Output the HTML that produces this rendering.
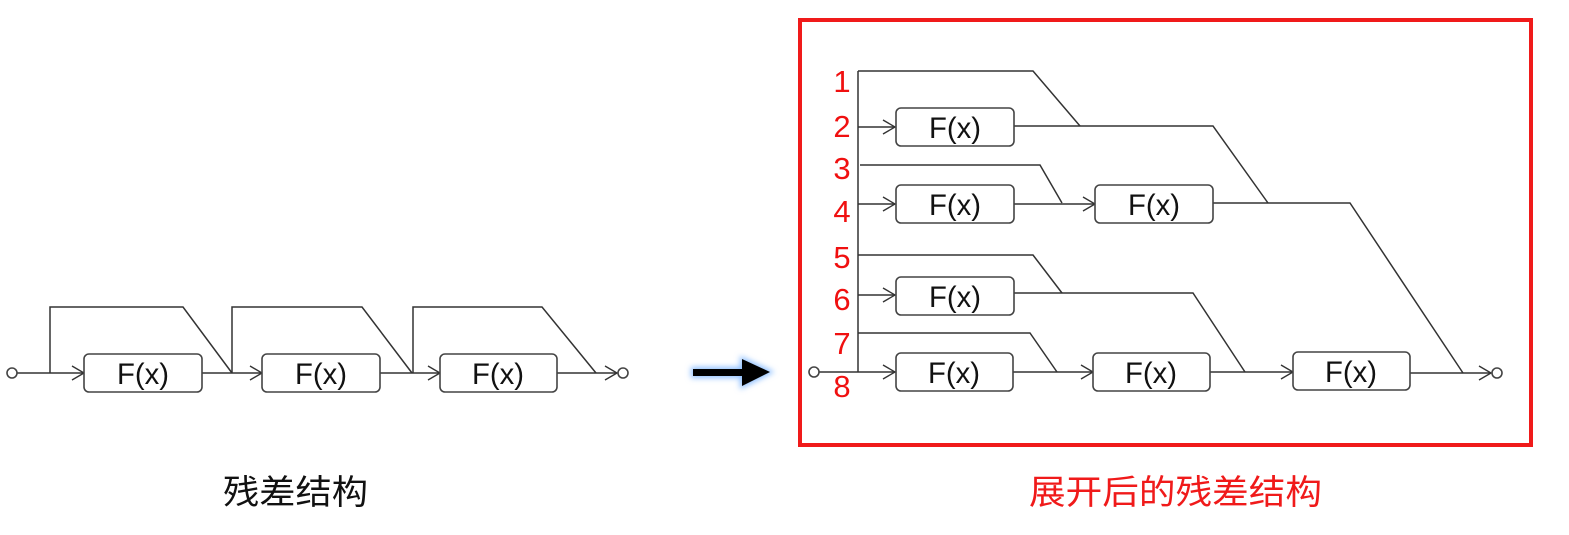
<!DOCTYPE html>
<html><head><meta charset="utf-8"><style>
html,body{margin:0;padding:0;background:#fff;}
svg{display:block;}
</style></head><body>
<svg width="1569" height="535" viewBox="0 0 1569 535" xmlns="http://www.w3.org/2000/svg">
<defs>
<marker id="a" markerWidth="16" markerHeight="16" refX="14" refY="8" orient="auto" markerUnits="userSpaceOnUse">
<path d="M2,1 L14,8 L2,15" fill="none" stroke="#333" stroke-width="1.4"/>
</marker>
<filter id="g" x="-30%" y="-60%" width="160%" height="220%"><feGaussianBlur stdDeviation="3"/></filter>
</defs>
<g fill="none" stroke="#333" stroke-width="1.5">
<line x1="17" y1="373" x2="84" y2="373" marker-end="url(#a)"/>
<polyline points="50,373 50,307 183,307 232,373"/>
<line x1="202" y1="373" x2="262" y2="373" marker-end="url(#a)"/>
<polyline points="232,373 232,307 362,307 412,373"/>
<line x1="380" y1="373" x2="440" y2="373" marker-end="url(#a)"/>
<polyline points="413,373 413,307 542,307 596,373"/>
<line x1="557" y1="373" x2="617" y2="373" marker-end="url(#a)"/>
<line x1="858" y1="71" x2="858" y2="372"/>
<line x1="819" y1="372" x2="895" y2="372" marker-end="url(#a)"/>
<polyline points="858,71 1033,71 1080,126"/>
<line x1="858" y1="127" x2="895" y2="127" marker-end="url(#a)"/>
<polyline points="1014,126 1213,126 1268,203"/>
<polyline points="860,165 1040,165 1062,203"/>
<line x1="858" y1="204" x2="895" y2="204" marker-end="url(#a)"/>
<line x1="1014" y1="204" x2="1095" y2="204" marker-end="url(#a)"/>
<polyline points="1213,203 1350,203 1463,373"/>
<polyline points="858,255 1033,255 1062,293"/>
<line x1="858" y1="295" x2="895" y2="295" marker-end="url(#a)"/>
<polyline points="1014,293 1193,293 1245,372"/>
<polyline points="858,333 1030,333 1057,372"/>
<line x1="1013" y1="372" x2="1093" y2="372" marker-end="url(#a)"/>
<line x1="1210" y1="372" x2="1293" y2="372" marker-end="url(#a)"/>
<line x1="1410" y1="373" x2="1491" y2="373" marker-end="url(#a)"/>
</g>
<g fill="#fff" stroke="#444" stroke-width="1.6">
<circle cx="12" cy="373" r="5"/>
<circle cx="623" cy="373" r="5"/>
<circle cx="814" cy="372" r="5"/>
<circle cx="1497" cy="373" r="5"/>
<rect x="84" y="354" width="118" height="38" rx="5"/>
<rect x="262" y="354" width="118" height="38" rx="5"/>
<rect x="440" y="354" width="117" height="38" rx="5"/>
<rect x="896" y="108" width="118" height="38" rx="5"/>
<rect x="896" y="185" width="118" height="38" rx="5"/>
<rect x="1095" y="185" width="118" height="38" rx="5"/>
<rect x="896" y="277" width="118" height="38" rx="5"/>
<rect x="896" y="353" width="117" height="38" rx="5"/>
<rect x="1093" y="353" width="117" height="38" rx="5"/>
<rect x="1293" y="352" width="117" height="38" rx="5"/>
</g>
<g font-family="Liberation Sans, sans-serif" font-size="30" fill="#111" text-anchor="middle" lengthAdjust="spacingAndGlyphs">
<text x="143" y="384" textLength="52" lengthAdjust="spacingAndGlyphs">F(x)</text>
<text x="321" y="384" textLength="52" lengthAdjust="spacingAndGlyphs">F(x)</text>
<text x="498" y="384" textLength="52" lengthAdjust="spacingAndGlyphs">F(x)</text>
<text x="955" y="138" textLength="52" lengthAdjust="spacingAndGlyphs">F(x)</text>
<text x="955" y="215" textLength="52" lengthAdjust="spacingAndGlyphs">F(x)</text>
<text x="1154" y="215" textLength="52" lengthAdjust="spacingAndGlyphs">F(x)</text>
<text x="955" y="307" textLength="52" lengthAdjust="spacingAndGlyphs">F(x)</text>
<text x="954" y="383" textLength="52" lengthAdjust="spacingAndGlyphs">F(x)</text>
<text x="1151" y="383" textLength="52" lengthAdjust="spacingAndGlyphs">F(x)</text>
<text x="1351" y="382" textLength="52" lengthAdjust="spacingAndGlyphs">F(x)</text>
</g>
<g font-family="Liberation Sans, sans-serif" font-size="31" fill="#f01010" text-anchor="middle">
<text x="842" y="92">1</text>
<text x="842" y="137">2</text>
<text x="842" y="179">3</text>
<text x="842" y="222">4</text>
<text x="842" y="268">5</text>
<text x="842" y="310">6</text>
<text x="842" y="354">7</text>
<text x="842" y="397">8</text>
</g>
<rect x="800" y="20" width="731" height="425" fill="none" stroke="#f01a1a" stroke-width="4"/>
<path d="M693,369 L742,369 L742,359 L770,372 L742,386 L742,376 L693,376 Z" fill="#8fc0ff" stroke="#8fc0ff" stroke-width="4" filter="url(#g)"/>
<path d="M693,369 L742,369 L742,359 L770,372 L742,386 L742,376 L693,376 Z" fill="#000"/>
<g font-family="Liberation Sans, Noto Sans CJK SC, sans-serif" font-size="34">
<text x="223" y="504" fill="#111" textLength="145" lengthAdjust="spacingAndGlyphs">残差结构</text>
<text x="1029" y="504" fill="#f01a1a" textLength="293" lengthAdjust="spacingAndGlyphs">展开后的残差结构</text>
</g>
</svg>
</body></html>
